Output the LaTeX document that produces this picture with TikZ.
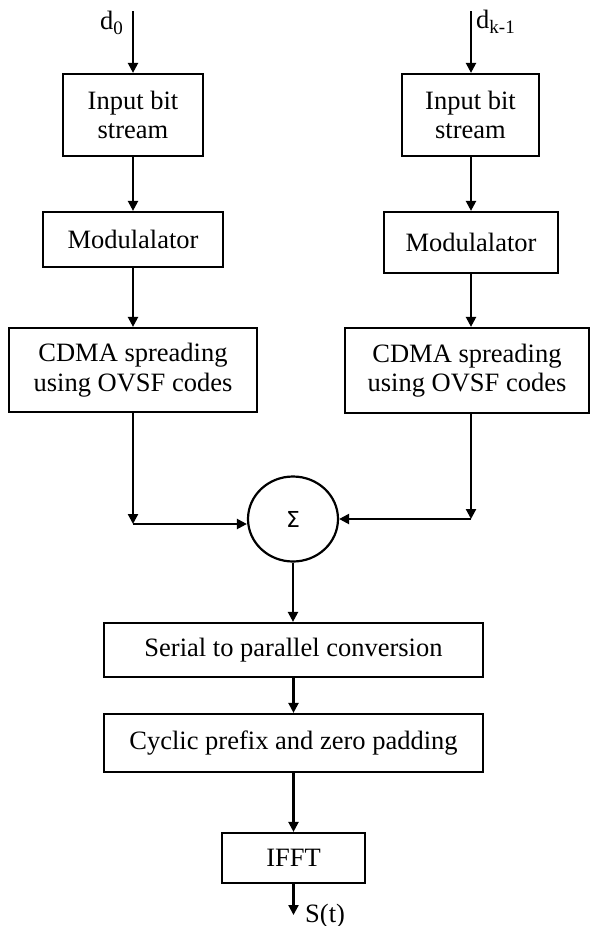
\documentclass[tikz,border=0pt]{standalone}
\usepackage{fontspec}
\setmainfont{Liberation Serif}
\newfontfamily\symfont{DejaVu Sans}
\usetikzlibrary{arrows.meta,shapes.geometric}
\begin{document}
\begin{tikzpicture}[x=1pt,y=-1pt,
  every node/.style={font=\fontsize{26.5}{29.5}\selectfont},
  blk/.style={draw,line width=2.2pt,rectangle,inner sep=0pt,align=center},
  arr/.style={line width=2.2pt,-{Triangle[length=10pt,width=10pt]}}]
\useasboundingbox (0,0) rectangle (592,926);
% blocks
\node[blk,minimum width=140pt,minimum height=82pt] (inL) at (133,115) {Input bit\\stream};
\node[blk,minimum width=137pt,minimum height=82pt] (inR) at (470.5,115) {Input bit\\stream};
\node[blk,minimum width=180pt,minimum height=55pt] (modL) at (133,239.5) {Modulalator};
\node[blk,minimum width=174pt,minimum height=61pt] (modR) at (471,242.5) {Modulalator};
\node[blk,minimum width=248pt,minimum height=84pt] (cdL) at (133,370) {CDMA spreading\\using OVSF codes};
\node[blk,minimum width=244pt,minimum height=85pt] (cdR) at (467,370.5) {CDMA spreading\\using OVSF codes};
\node[draw,line width=2.2pt,ellipse,inner sep=0pt,minimum width=90pt,minimum height=85pt] (sum) at (293,519) {\symfont\fontsize{22}{24}\selectfont Σ};
\node[blk,minimum width=379pt,minimum height=54pt] (ser) at (293.5,650) {Serial to parallel conversion};
\node[blk,minimum width=379pt,minimum height=58pt] (cyc) at (293.5,743) {Cyclic prefix and zero padding};
\node[blk,minimum width=143pt,minimum height=50pt] (ifft) at (293.5,858) {IFFT};
% labels
\node[anchor=base west,inner sep=0pt] (d0) at (100,29) {d\raisebox{-0.22em}{\fontsize{19}{20}\selectfont 0}};
\node[anchor=base west,inner sep=0pt] (dk) at (476,28) {d\raisebox{-0.22em}{\fontsize{19}{20}\selectfont k-1}};
\node[anchor=base west,inner sep=0pt] (st) at (305,922) {S(t)};
% coordinates
\coordinate (tL) at (133,11);
\coordinate (tR) at (471,11);
\coordinate (cL) at (133,524);
\coordinate (cR) at (471,519);
\coordinate (out) at (293.5,915);
% connectors
\draw[arr] (tL) -- (tL |- inL.north);
\draw[arr] (tR) -- (tR |- inR.north);
\draw[arr] (inL.south) -- (inL.south |- modL.north);
\draw[arr] (tR |- inR.south) -- (tR |- modR.north);
\draw[arr] (modL.south) -- (modL.south |- cdL.north);
\draw[arr] (tR |- modR.south) -- (tR |- cdR.north);
\draw[arr] (cL |- cdL.south) -- (cL);
\draw[arr] (cL) -- (sum.west |- cL);
\draw[arr] (cR |- cdR.south) -- (cR);
\draw[arr] (cR) -- (sum.east);
\draw[arr] (sum.south) -- (sum.south |- ser.north);
\draw[arr] (ser.south) -- (ser.south |- cyc.north);
\draw[arr] (cyc.south) -- (cyc.south |- ifft.north);
\draw[arr] (ifft.south) -- (out);
\end{tikzpicture}
\end{document}
